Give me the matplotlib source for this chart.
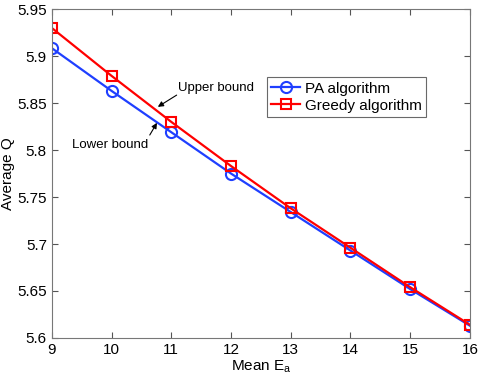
import matplotlib
matplotlib.use("Agg")
from matplotlib import pyplot as plt

plt.rcParams['font.family'] = ['Liberation Sans', 'DejaVu Sans']

mean_ea = [9, 10, 11, 12, 13, 14, 15, 16]
pa_q = [5.9085, 5.863, 5.819, 5.775, 5.734, 5.693, 5.652, 5.613]
greedy_q = [5.930, 5.879, 5.830, 5.783, 5.738, 5.696, 5.654, 5.614]
yticks = [5.6, 5.65, 5.7, 5.75, 5.8, 5.85, 5.9, 5.95]

fig = plt.figure(figsize=(4.84, 3.81), dpi=100)
ax = fig.add_axes([0.107, 0.113, 0.864, 0.863])

ax.plot(mean_ea, pa_q, '-o', color='#1f3fff', lw=1.6, ms=8, mfc='none', mew=1.5,
        label='PA algorithm')
ax.plot(mean_ea, greedy_q, '-s', color='#ff0000', lw=1.6, ms=7, mfc='none', mew=1.5,
        label='Greedy algorithm')

ax.set_xlim(9, 16)
ax.set_ylim(5.6, 5.95)
ax.set_xticks(mean_ea)
ax.set_yticks(yticks)
ax.set_yticklabels(['5.6', '5.65', '5.7', '5.75', '5.8', '5.85', '5.9', '5.95'])
ax.tick_params(direction='in', labelsize=11, length=4, color='#555555', top=True, right=True)
for s in ax.spines.values():
    s.set_color('#777777')

ax.set_xlabel('Mean E$_\\mathregular{a}$', fontsize=11, labelpad=1)
ax.set_ylabel('Average Q', fontsize=11, labelpad=2)

# bound labels with arrows
ax.annotate('', xy=(10.775, 5.846), xytext=(11.09, 5.8585),
            arrowprops=dict(arrowstyle='-|>', color='black', lw=0.8, mutation_scale=8,
                            shrinkA=0, shrinkB=0))
ax.text(11.11, 5.866, 'Upper bound', fontsize=9.5, ha='left', va='center')
ax.annotate('', xy=(10.76, 5.829), xytext=(10.64, 5.816),
            arrowprops=dict(arrowstyle='-|>', color='black', lw=0.8, mutation_scale=8,
                            shrinkA=0, shrinkB=0))
ax.text(9.335, 5.8055, 'Lower bound', fontsize=9.5, ha='left', va='center')

leg = ax.legend(loc='upper left', bbox_to_anchor=(0.514, 0.793), fontsize=11,
                fancybox=False, edgecolor='#444444', handlelength=1.9,
                borderpad=0.3, labelspacing=0.2, handletextpad=0.3, borderaxespad=0)
leg.get_frame().set_linewidth(0.8)

fig.savefig('out.png', dpi=100)
